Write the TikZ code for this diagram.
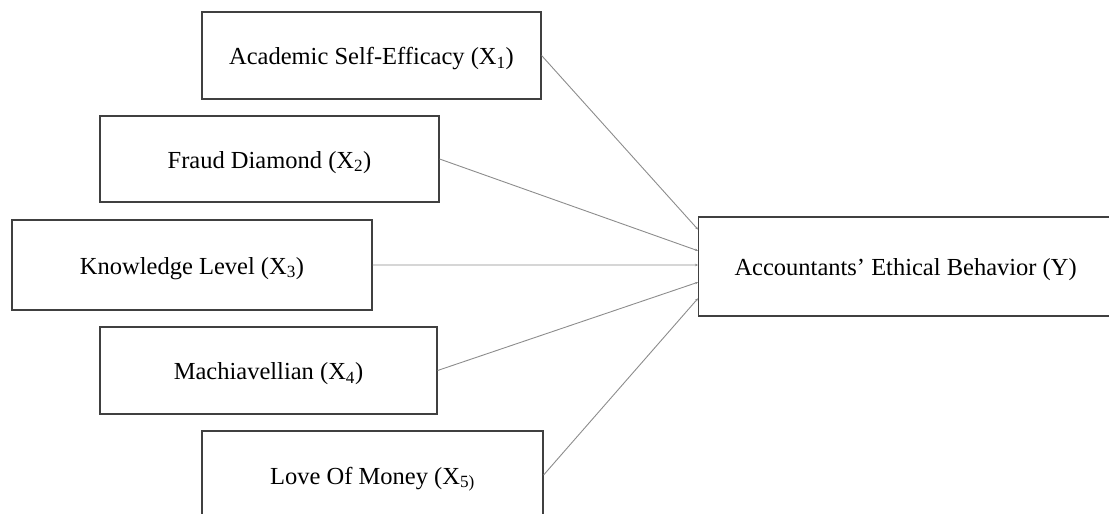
\documentclass[tikz,border=0pt]{standalone}
\usepackage{fontspec}
\setmainfont{Liberation Serif}
\usetikzlibrary{arrows.meta,calc}
\definecolor{boxline}{HTML}{404040}
\definecolor{linkline}{HTML}{8C8C8C}
\begin{document}
\begin{tikzpicture}[x=1pt,y=-1pt,
  varbox/.style={draw=boxline,line width=1.2pt,fill=white,inner sep=0pt,
    text height=18pt,text depth=0pt,
    font=\fontsize{24.5}{29}\selectfont},
  link/.style={draw=linkline,line width=0.9pt,-{Stealth[length=3pt,width=2.5pt]}}]
\useasboundingbox (0,0) rectangle (1109,514);
\begin{scope}
\clip (0,0) rectangle (1109,514);
\node[varbox,minimum width=339,minimum height=87] (x1) at (371.5,55.5) {Academic Self-Efficacy (X\textsubscript{1})};
\node[varbox,minimum width=339,minimum height=86] (x2) at (269.5,159) {Fraud Diamond (X\textsubscript{2})};
\node[varbox,minimum width=360,minimum height=90] (x3) at (192,265) {Knowledge Level (X\textsubscript{3})};
\node[varbox,minimum width=337,minimum height=87] (x4) at (268.5,370.5) {Machiavellian (X\textsubscript{4})};
\node[varbox,minimum width=341,minimum height=88] (x5) at (372.5,475) {Love Of Money (X\textsubscript{5)}};
\node[varbox,minimum width=420,minimum height=99,anchor=west] (y) at (698,266.5) {\hspace*{-6pt}Accountants’ Ethical Behavior (Y)};
\coordinate (e1) at ($(y.north west)!0.131!(y.south west)$);
\coordinate (e2) at ($(y.north west)!0.343!(y.south west)$);
\coordinate (e3) at ($(y.north west)!0.485!(y.south west)$);
\coordinate (e4) at ($(y.north west)!0.657!(y.south west)$);
\coordinate (e5) at ($(y.north west)!0.818!(y.south west)$);
\draw[link] (x1.east) -- (e1);
\draw[link] (x2.east) -- (e2);
\draw[link] (x3.east) -- (e3);
\draw[link] (x4.east) -- (e4);
\draw[link] (x5.east) -- (e5);
\end{scope}
\end{tikzpicture}
\end{document}
